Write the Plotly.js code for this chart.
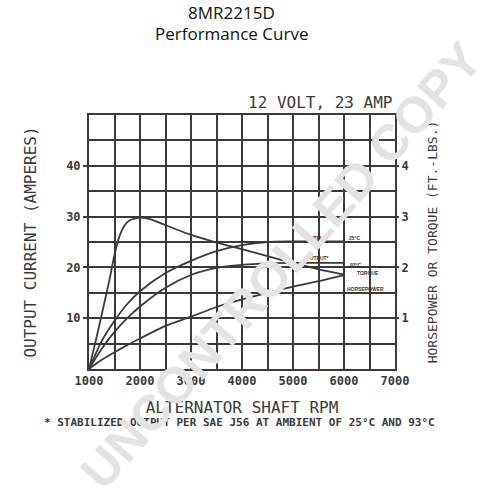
<!DOCTYPE html>
<html>
<head>
<meta charset="utf-8">
<script src="https://cdn.plot.ly/plotly-3.0.1.min.js"></script>
<style>html,body{margin:0;padding:0;background:#fff;}#chart{width:500px;height:500px;}</style>
</head>
<body>
<div id="chart"></div>
<script>
// ---- data ----
const outputRpm = [1000, 1250, 1500, 1750, 2000, 2500, 3000, 3500, 4000, 4500, 5000, 5500, 6000];
const output25C = [0, 5.5, 9.5, 12.8, 15.3, 18.9, 21.3, 23.2, 24.4, 25.0, 25.1, 25.1, 25.1];
const output93C = [0, 4.0, 7.3, 10.0, 12.3, 16.0, 18.5, 19.9, 20.5, 20.8, 20.9, 20.9, 20.9];
const horsepower = [0, 0.18, 0.33, 0.47, 0.60, 0.85, 1.03, 1.22, 1.37, 1.50, 1.62, 1.73, 1.85];
const torqueRpm = [1000, 1100, 1200, 1300, 1400, 1500, 1600, 1700, 1800, 2000, 2200, 2500, 3000, 3500, 4000, 4500, 5000, 5500, 6000];
const torque = [0, 0.42, 0.85, 1.30, 1.75, 2.25, 2.62, 2.83, 2.93, 2.98, 2.95, 2.83, 2.64, 2.49, 2.36, 2.22, 2.09, 1.96, 1.86];
const rpmTicks = [1000, 2000, 3000, 4000, 5000, 6000, 7000];
const ampTicks = [10, 20, 30, 40];
const hpTicks = [1, 2, 3, 4];
const curveLabels = ['OUTPUT*', '25°C', 'OUTPUT*', '93°C', 'TORQUE', 'HORSEPOWER'];
const titleLines = ['8MR2215D', 'Performance Curve'];

const ink = '#3a3a3a';
const mono = 'DejaVu Sans Mono';
const lineStyle = {color: ink, width: 1.8, shape: 'spline', smoothing: 0.8};

const traces = [
  {x: outputRpm, y: output25C, name: 'Output 25°C', mode: 'lines', line: lineStyle, yaxis: 'y', hoverinfo: 'x+y'},
  {x: outputRpm, y: output93C, name: 'Output 93°C', mode: 'lines', line: lineStyle, yaxis: 'y', hoverinfo: 'x+y'},
  {x: torqueRpm, y: torque, name: 'Torque', mode: 'lines', line: Object.assign({}, lineStyle, {smoothing: 0.6}), yaxis: 'y2', hoverinfo: 'x+y'},
  {x: outputRpm, y: horsepower, name: 'Horsepower', mode: 'lines', line: lineStyle, yaxis: 'y2', hoverinfo: 'x+y'}
];

// pixel helpers for paper placement of free text
const px = v => (v - 89) / 306;
const py = v => (369 - v) / 254;

const labelPos = [[317, 238], [355, 238], [317, 258], [356, 265], [368, 273], [365, 289]];
const annotations = curveLabels.map((t, i) => ({
  text: '<b>' + t + '</b>', xref: 'paper', yref: 'paper',
  x: px(labelPos[i][0]), y: py(labelPos[i][1]),
  xanchor: 'center', yanchor: 'middle', showarrow: false,
  font: {family: 'Liberation Sans', size: 5, color: '#333'}
}));

const titleTop = [0, 21];
titleLines.forEach((t, i) => annotations.push({
  text: t, xref: 'paper', yref: 'paper', x: px(231), y: py(titleTop[i]),
  xanchor: 'center', yanchor: 'top', showarrow: false, borderpad: 0,
  font: {family: 'Open Sans', size: 17, color: '#111'}
}));

annotations.push({
  text: '12 VOLT, 23 AMP', xref: 'paper', yref: 'paper', x: px(395), y: py(102),
  xanchor: 'right', yanchor: 'middle', showarrow: false,
  font: {family: mono, size: 16, color: ink}
});
annotations.push({
  text: '<b>* STABILIZED OUTPUT PER SAE J56 AT AMBIENT OF 25°C AND 93°C</b>',
  xref: 'paper', yref: 'paper', x: px(239), y: py(422),
  xanchor: 'center', yanchor: 'middle', showarrow: false,
  font: {family: mono, size: 11, color: ink}
});
// watermark
annotations.push({
  text: '<b>UNCONTROLLED COPY</b>', xref: 'paper', yref: 'paper',
  x: px(281), y: py(266), xanchor: 'center', yanchor: 'middle',
  showarrow: false, textangle: -48.5,
  font: {family: 'Liberation Sans', size: 50, color: '#e3e3e3'}
});

const layout = {
  width: 500, height: 500,
  paper_bgcolor: '#fff', plot_bgcolor: '#fff',
  margin: {l: 89, r: 105, t: 115, b: 131, pad: 0},
  showlegend: false,
  xaxis: {
    range: [1000, 7000], tickvals: rpmTicks, ticks: '', ticklen: 0,
    showgrid: true, gridcolor: ink, gridwidth: 2,
    minor: {dtick: 500, tick0: 1000, showgrid: true, gridcolor: ink, gridwidth: 2},
    showline: true, linecolor: ink, linewidth: 2, mirror: true, zeroline: false,
    tickfont: {family: mono, size: 12, color: ink, weight: 'bold'},
    title: {text: 'ALTERNATOR SHAFT RPM', standoff: 14, font: {family: mono, size: 16, color: ink}},
    fixedrange: true
  },
  yaxis: {
    range: [0, 50], tickvals: ampTicks, ticks: 'outside', ticklen: 4, tickwidth: 2, tickcolor: ink,
    showgrid: true, gridcolor: ink, gridwidth: 2,
    minor: {dtick: 5, tick0: 0, showgrid: true, gridcolor: ink, gridwidth: 2},
    showline: true, linecolor: ink, linewidth: 2, mirror: true, zeroline: false,
    tickfont: {family: mono, size: 12, color: ink, weight: 'bold'},
    title: {text: 'OUTPUT CURRENT (AMPERES)', standoff: 26, font: {family: mono, size: 16, color: ink}},
    fixedrange: true
  },
  yaxis2: {
    range: [0, 5], tickvals: hpTicks, overlaying: 'y', side: 'right',
    ticks: 'outside', ticklen: 3, tickwidth: 2, tickcolor: ink,
    showgrid: false, zeroline: false, showline: false,
    tickfont: {family: mono, size: 12, color: ink, weight: 'bold'},
    title: {text: 'HORSEPOWER OR TORQUE (FT.-LBS.)', standoff: 20, font: {family: mono, size: 13, color: ink}},
    fixedrange: true
  },
  annotations: annotations
};

Plotly.newPlot('chart', traces, layout, {staticPlot: true, displayModeBar: false});
</script>
</body>
</html>
